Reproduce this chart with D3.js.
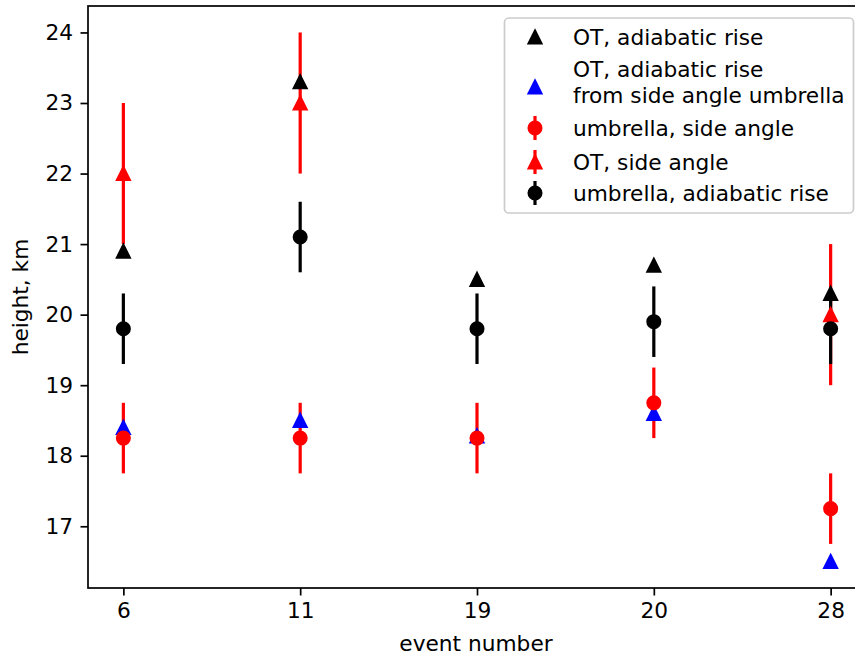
<!DOCTYPE html>
<html>
<head>
<meta charset="utf-8">
<script src="https://cdn.jsdelivr.net/npm/d3@7"></script>
<style>
  html, body { margin: 0; padding: 0; background: #ffffff; }
  svg { display: block; font-family: "DejaVu Sans", sans-serif; }
</style>
</head>
<body>
<svg id="chart" width="855" height="656"></svg>
<script>
// ---- data ----
const categories = ["6", "11", "19", "20", "28"];
const otAdiabatic = [20.9, 23.3, 20.5, 20.7, 20.3];
const otAdiabaticFromSide = [18.4, 18.5, 18.28, 18.6, 16.5];
const umbrellaSide = [18.25, 18.25, 18.25, 18.75, 17.25];
const umbrellaSideErr = [0.5, 0.5, 0.5, 0.5, 0.5];
const otSide = [22, 23, null, null, 20];
const otSideErr = [1, 1, null, null, 1];
const umbrellaAdiabatic = [19.8, 21.1, 19.8, 19.9, 19.8];
const umbrellaAdiabaticErr = [0.5, 0.5, 0.5, 0.5, 0.5];
const yTicks = [17, 18, 19, 20, 21, 22, 23, 24];
const legendLabels = [
  ["OT, adiabatic rise"],
  ["OT, adiabatic rise", "from side angle umbrella"],
  ["umbrella, side angle"],
  ["OT, side angle"],
  ["umbrella, adiabatic rise"]
];

(function () {
// ---- layout ----
const pLeft = 88, pRight = 866, pTop = 6, pBottom = 588;
const FS = 21.7;
const svg = d3.select("#chart");

const x = d3.scalePoint().domain(categories).range([pLeft, pRight]).padding(0.2);
const y = d3.scaleLinear().domain([16.125, 24.375]).range([pBottom, pTop]);

const MS = 6.45;      // marker half-size
const MEW = 2.15;     // marker edge width
const ELW = 3.2;      // errorbar line width

const triPath = `M0,${-MS} L${MS},${MS} L${-MS},${MS} Z`;

// axes
const xAxis = d3.axisBottom(x).tickSize(7.5).tickPadding(7.5);
const yAxis = d3.axisLeft(y).tickValues(yTicks).tickFormat(d3.format("d")).tickSize(7.5).tickPadding(7.5);

const gx = svg.append("g").attr("transform", `translate(0,${pBottom})`).call(xAxis);
const gy = svg.append("g").attr("transform", `translate(${pLeft},0)`).call(yAxis);
[gx, gy].forEach(g => {
  g.select(".domain").remove();
  g.selectAll(".tick line").attr("stroke", "#000").attr("stroke-width", 1.7);
  g.selectAll(".tick text").attr("fill", "#000").style("font-size", FS + "px").style("font-family", "DejaVu Sans");
});

// frame (spines)
svg.append("rect")
  .attr("x", pLeft).attr("y", pTop)
  .attr("width", pRight - pLeft).attr("height", pBottom - pTop)
  .attr("fill", "none").attr("stroke", "#000").attr("stroke-width", 1.7);

const plot = svg.append("g");

function errbars(vals, errs, color) {
  const idx = vals.map((v, i) => i).filter(i => vals[i] != null);
  plot.append("g").selectAll("line").data(idx).join("line")
    .attr("x1", i => x(categories[i])).attr("x2", i => x(categories[i]))
    .attr("y1", i => y(vals[i] - errs[i])).attr("y2", i => y(vals[i] + errs[i]))
    .attr("stroke", color).attr("stroke-width", ELW);
}
function tris(vals, color) {
  const idx = vals.map((v, i) => i).filter(i => vals[i] != null);
  plot.append("g").selectAll("path").data(idx).join("path")
    .attr("d", triPath)
    .attr("transform", i => `translate(${x(categories[i])},${y(vals[i])})`)
    .attr("fill", color).attr("stroke", color).attr("stroke-width", MEW);
}
function circles(vals, color) {
  const idx = vals.map((v, i) => i).filter(i => vals[i] != null);
  plot.append("g").selectAll("circle").data(idx).join("circle")
    .attr("cx", i => x(categories[i])).attr("cy", i => y(vals[i]))
    .attr("r", MS)
    .attr("fill", color).attr("stroke", color).attr("stroke-width", MEW);
}

// error bars first
errbars(umbrellaSide, umbrellaSideErr, "#ff0000");
errbars(otSide, otSideErr, "#ff0000");
errbars(umbrellaAdiabatic, umbrellaAdiabaticErr, "#000000");
// markers
tris(otAdiabatic, "#000000");
tris(otAdiabaticFromSide, "#0000ff");
circles(umbrellaSide, "#ff0000");
tris(otSide, "#ff0000");
circles(umbrellaAdiabatic, "#000000");

// axis labels
svg.append("text")
  .attr("x", 476).attr("y", 651)
  .attr("text-anchor", "middle")
  .style("font-size", FS + "px").attr("fill", "#000")
  .text("event number");
svg.append("text")
  .attr("transform", `translate(28,${(pTop + pBottom) / 2}) rotate(-90)`)
  .attr("text-anchor", "middle")
  .style("font-size", FS + "px").attr("fill", "#000")
  .text("height, km");

// legend
const lg = svg.append("g");
lg.append("rect")
  .attr("x", 504.5).attr("y", 18).attr("width", 349).attr("height", 195)
  .attr("rx", 4.3).attr("ry", 4.3)
  .attr("fill", "#ffffff").attr("fill-opacity", 0.8)
  .attr("stroke", "#cccccc").attr("stroke-width", 1.7);

const hx = 535, tx = 573;
const rows = [
  { type: "tri", color: "#000000", err: false, my: 37, ty: [37] },
  { type: "tri", color: "#0000ff", err: false, my: 87, ty: [69, 95] },
  { type: "circ", color: "#ff0000", err: true, my: 128, ty: [128] },
  { type: "tri", color: "#ff0000", err: true, my: 162, ty: [162] },
  { type: "circ", color: "#000000", err: true, my: 193, ty: [193] }
];
rows.forEach((r, k) => {
  if (r.err) {
    lg.append("line").attr("x1", hx).attr("x2", hx)
      .attr("y1", r.my - 12).attr("y2", r.my + 12)
      .attr("stroke", r.color).attr("stroke-width", ELW);
  }
  if (r.type === "tri") {
    lg.append("path").attr("d", triPath).attr("transform", `translate(${hx},${r.my})`)
      .attr("fill", r.color).attr("stroke", r.color).attr("stroke-width", MEW);
  } else {
    lg.append("circle").attr("cx", hx).attr("cy", r.my).attr("r", MS)
      .attr("fill", r.color).attr("stroke", r.color).attr("stroke-width", MEW);
  }
  legendLabels[k].forEach((t, j) => {
    lg.append("text").attr("x", tx).attr("y", r.ty[j])
      .attr("dy", "0.36em")
      .style("font-size", FS + "px").attr("fill", "#000")
      .text(t);
  });
});
})();
</script>
</body>
</html>
